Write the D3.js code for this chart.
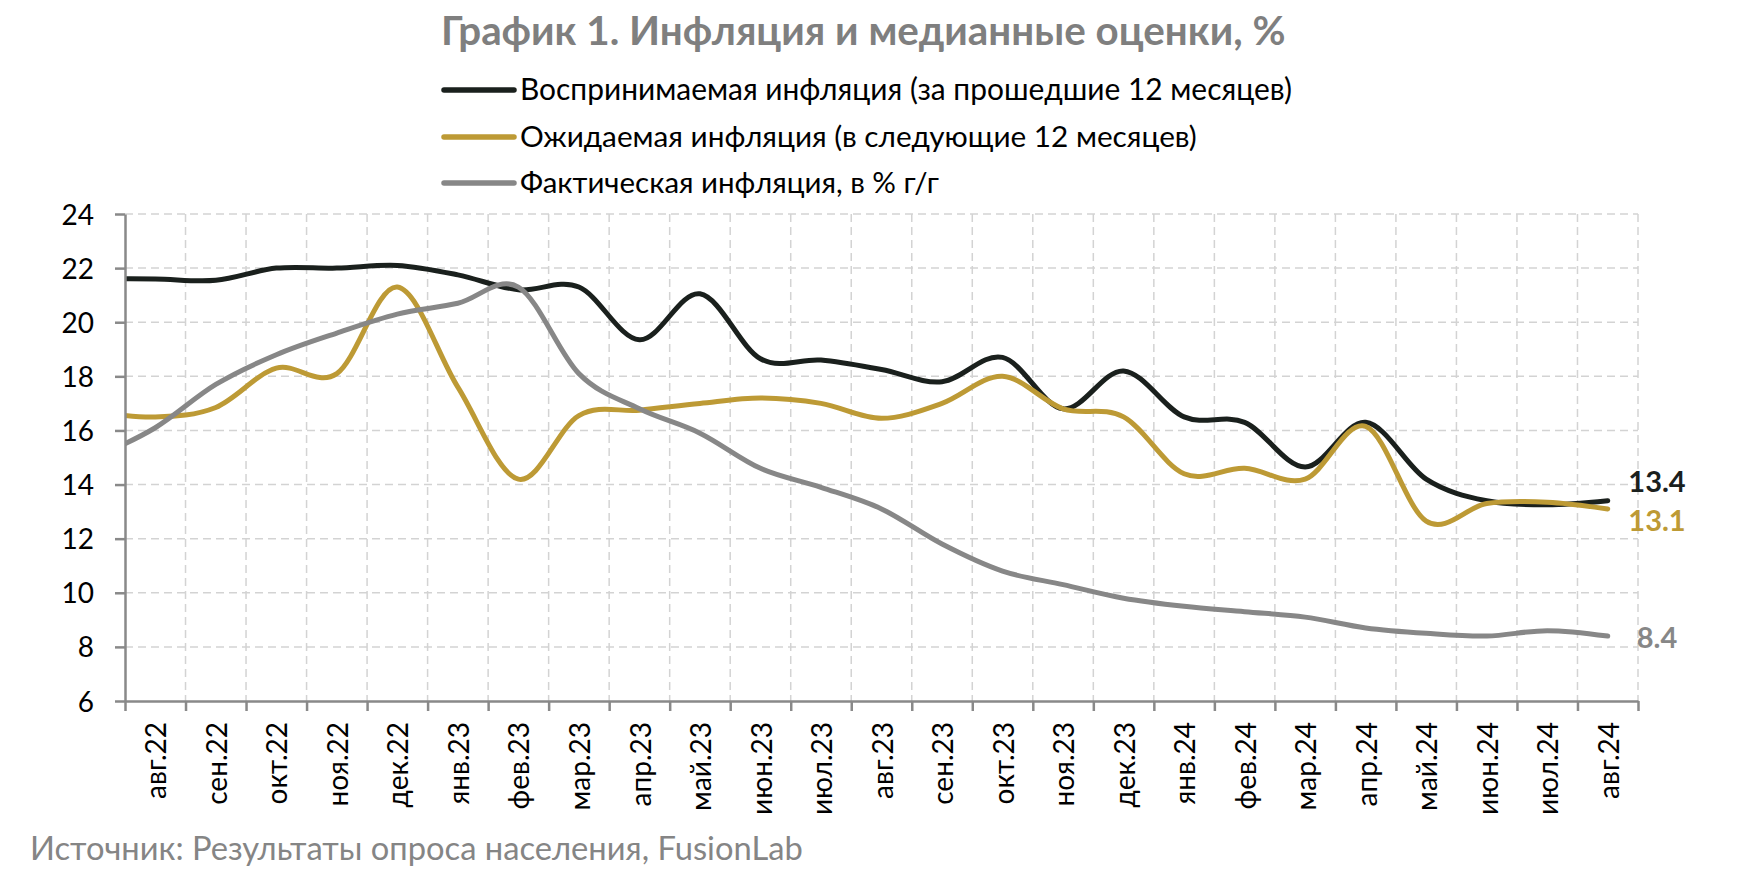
<!DOCTYPE html>
<html><head><meta charset="utf-8">
<script src="https://cdn.jsdelivr.net/npm/d3@7"></script>
<style>body{margin:0;background:#fff} svg{display:block}</style>
</head><body><svg id="c" width="1757" height="890"></svg>
<script>
// ---- data ----
const categories = ["авг.22","сен.22","окт.22","ноя.22","дек.22","янв.23","фев.23","мар.23","апр.23","май.23","июн.23","июл.23","авг.23","сен.23","окт.23","ноя.23","дек.23","янв.24","фев.24","мар.24","апр.24","май.24","июн.24","июл.24","авг.24"];
// value of the month before the first label (the curve enters the plot from it, clipped at the axis)
const leadCategory = "июл.22";
const perceivedLead = 21.6;
const expectedLead = 16.7;
const actualLead = 15.0;
const perceived = [21.6,21.55,22.0,22.0,22.1,21.75,21.2,21.3,19.35,21.05,18.65,18.6,18.25,17.8,18.7,16.8,18.2,16.5,16.3,14.65,16.3,14.2,13.4,13.25,13.4];
const expected  = [16.5,16.85,18.3,18.1,21.3,17.6,14.2,16.55,16.75,17.0,17.2,17.0,16.45,17.0,18.0,16.8,16.5,14.4,14.6,14.2,16.15,12.65,13.3,13.35,13.1];
const actual    = [16.1,17.7,18.8,19.6,20.3,20.7,21.3,18.1,16.8,15.9,14.6,13.9,13.1,11.8,10.8,10.3,9.8,9.5,9.3,9.1,8.7,8.5,8.4,8.6,8.4];
const yTicks = [6,8,10,12,14,16,18,20,22,24];
const seriesNames = ["Воспринимаемая инфляция (за прошедшие 12 месяцев)","Ожидаемая инфляция (в следующие 12 месяцев)","Фактическая инфляция, в % г/г"];
const titleText = "График 1. Инфляция и медианные оценки, %";
const sourceText = "Источник: Результаты опроса населения, FusionLab";

// ---- styles ----
const colors = ["#1a201d","#bd9a35","#878787"];
const FONT = "Lato, 'Open Sans', sans-serif";
const plot = {left:125, right:1638, top:214, bottom:701};

const svg = d3.select("#c");
const x = d3.scaleBand().domain(categories).range([plot.left, plot.right]).padding(0);
const xi = d3.scaleLinear().domain([-0.5, categories.length-0.5]).range([plot.left, plot.right]);
const y = d3.scaleLinear().domain([6,24]).range([plot.bottom, plot.top]);

function fit(sel, target){
  const w = sel.node().getComputedTextLength();
  const fs = parseFloat(sel.attr("font-size"));
  sel.attr("font-size", (fs*target/w).toFixed(2));
}

// grid
const grid = svg.append("g").attr("stroke","#d3d3d3").attr("stroke-width",1.5).attr("stroke-dasharray","8,5");
grid.selectAll("line.h").data(yTicks.filter(t=>t>6)).join("line")
  .attr("x1",plot.left).attr("x2",plot.right).attr("y1",d=>y(d)).attr("y2",d=>y(d));
grid.selectAll("line.v").data(d3.range(1,categories.length+1)).join("line")
  .attr("x1",d=>xi(d-0.5)).attr("x2",d=>xi(d-0.5)).attr("y1",plot.top).attr("y2",plot.bottom);

// lines
svg.append("defs").append("clipPath").attr("id","clip").append("rect")
  .attr("x",plot.left).attr("y",0).attr("width",1757-plot.left).attr("height",890);
const line = d3.line().x(d=>xi(d.i)).y(d=>y(d.v)).curve(d3.curveCardinal.tension(0));
const allSeries = [[perceivedLead,perceived],[expectedLead,expected],[actualLead,actual]];
const lg = svg.append("g").attr("clip-path","url(#clip)");
allSeries.forEach(([lead,vals],k)=>{
  const pts = [{i:-1,v:lead}].concat(vals.map((v,i)=>({i,v})));
  lg.append("path").attr("d",line(pts)).attr("fill","none").attr("stroke",colors[k])
    .attr("stroke-width",5).attr("stroke-linecap","round").attr("stroke-linejoin","round");
});

// y axis
const yAxis = svg.append("g").attr("transform",`translate(${plot.left},0)`)
  .call(d3.axisLeft(y).tickValues(yTicks).tickSize(10).tickSizeOuter(0).tickPadding(21));
yAxis.select(".domain").attr("stroke","#898989").attr("stroke-width",2.5);
yAxis.selectAll(".tick line").attr("stroke","#898989").attr("stroke-width",2.5);
yAxis.selectAll(".tick text").attr("font-family",FONT).attr("font-size",28).attr("fill","#000").attr("dy","0.36em");

// x axis
const xAxis = svg.append("g").attr("transform",`translate(0,${plot.bottom})`)
  .call(d3.axisBottom(xi).tickValues(d3.range(-0.5,categories.length)).tickSize(10).tickSizeOuter(0).tickFormat(""));
xAxis.select(".domain").attr("stroke","#898989").attr("stroke-width",2.5);
xAxis.selectAll(".tick line").attr("stroke","#898989").attr("stroke-width",2.5);
svg.append("g").selectAll("text").data(categories).join("text")
  .attr("transform",d=>`translate(${x(d)+x.bandwidth()/2+1},722) rotate(-90)`)
  .attr("text-anchor","end").attr("dy","0.36em")
  .attr("font-family",FONT).attr("font-size",28).attr("fill","#000").text(d=>d);

// end labels
const endOffsets = [-19, 12, 1];
allSeries.forEach(([lead,vals],k)=>{
  const v = vals[vals.length-1];
  svg.append("text").attr("x",1657).attr("y",y(v)+endOffsets[k]).attr("dy","0.36em")
    .attr("text-anchor","middle").attr("font-family",FONT).attr("font-weight",700)
    .attr("font-size",29).attr("fill",colors[k]).text(d3.format(".1f")(v));
});

// title
const t = svg.append("text").attr("x",441).attr("y",45).attr("font-family",FONT).attr("font-weight",700)
  .attr("font-size",30).attr("fill","#7f7f7f").text(titleText);
fit(t, 845);

// legend
const legY = [90,137,183];
const legW = [772,677,419];
seriesNames.forEach((n,k)=>{
  svg.append("line").attr("x1",444).attr("x2",514).attr("y1",legY[k]).attr("y2",legY[k])
    .attr("stroke",colors[k]).attr("stroke-width",5.5).attr("stroke-linecap","round");
  const tx = svg.append("text").attr("x",520).attr("y",legY[k]+10).attr("font-family",FONT)
    .attr("font-size",26).attr("fill","#000").text(n);
  fit(tx, legW[k]);
});

// source
const s = svg.append("text").attr("x",30).attr("y",860).attr("font-family",FONT)
  .attr("font-size",30).attr("fill","#858585").text(sourceText);
fit(s, 773);
</script></body></html>
